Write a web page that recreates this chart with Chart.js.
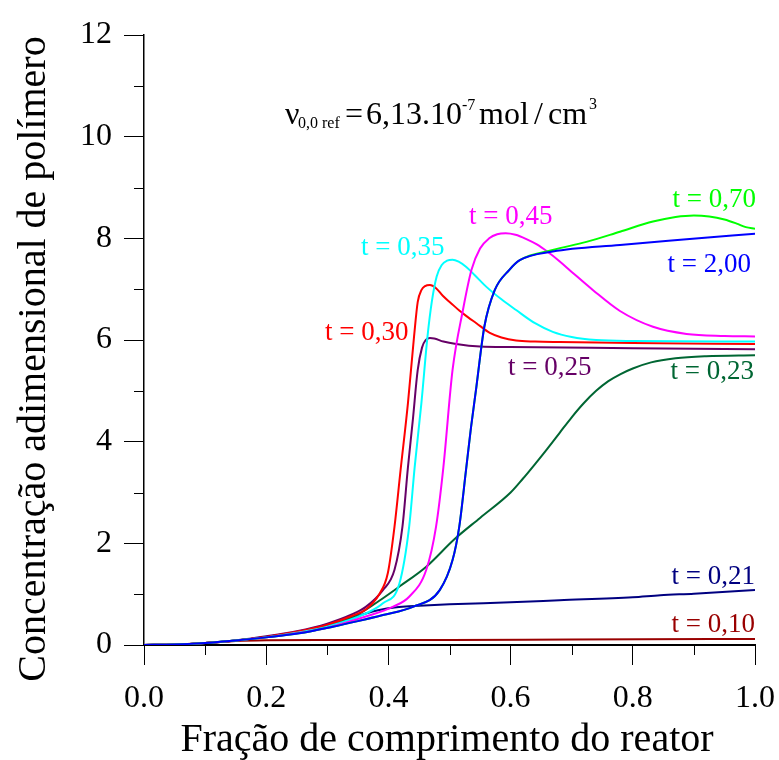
<!DOCTYPE html>
<html>
<head>
<meta charset="utf-8">
<script src="https://cdn.jsdelivr.net/npm/chart.js@4"></script>
<style>
  html, body { margin: 0; padding: 0; background: #ffffff; }
  #wrap { width: 779px; height: 760px; }
</style>
</head>
<body>
<div id="wrap"><canvas id="c" width="779" height="760"></canvas></div>
<script>
// Dimensionless polymer concentration along the reactor, one curve per time t.
const xTickLabels = ['0.0', '0.2', '0.4', '0.6', '0.8', '1.0'];
const yTickLabels = ['0', '2', '4', '6', '8', '10', '12'];

const xT010 = [0, 0.05, 0.1, 0.15, 0.2, 0.3, 0.5, 0.7, 1.0];
const yT010 = [0, 0.01, 0.04, 0.08, 0.095, 0.10, 0.10, 0.11, 0.12];

const xT021 = [0, 0.05, 0.1, 0.15, 0.2, 0.25, 0.3, 0.34, 0.363, 0.385, 0.41, 0.434, 0.5, 0.6, 0.68, 0.8, 0.845, 0.9, 1.0];
const yT021 = [0, 0.01, 0.04, 0.09, 0.16, 0.25, 0.38, 0.52, 0.62, 0.69, 0.74, 0.76, 0.80, 0.84, 0.88, 0.94, 0.98, 1.01, 1.08];

const xT023 = [0, 0.05, 0.1, 0.15, 0.2, 0.25, 0.3, 0.35, 0.385, 0.418, 0.462, 0.508, 0.55, 0.6, 0.62, 0.64, 0.66, 0.68, 0.7, 0.72, 0.74, 0.76, 0.78, 0.8, 0.83, 0.87, 0.92, 1.0];
const yT023 = [0, 0.01, 0.04, 0.09, 0.16, 0.25, 0.39, 0.60, 0.87, 1.15, 1.54, 2.08, 2.5, 3.0, 3.27, 3.56, 3.86, 4.17, 4.48, 4.76, 5.0, 5.19, 5.33, 5.44, 5.56, 5.64, 5.68, 5.70];

const xT025 = [0, 0.05, 0.1, 0.15, 0.2, 0.25, 0.3, 0.34, 0.363, 0.391, 0.41, 0.423, 0.432, 0.44, 0.448, 0.455, 0.461, 0.468, 0.475, 0.49, 0.511, 0.55, 0.6, 0.8, 1.0];
const yT025 = [0, 0.01, 0.04, 0.09, 0.17, 0.27, 0.42, 0.60, 0.75, 1.08, 1.48, 2.33, 3.5, 4.43, 5.41, 5.85, 6.0, 6.04, 6.03, 5.97, 5.92, 5.87, 5.86, 5.84, 5.82];

const xT030 = [0, 0.05, 0.1, 0.15, 0.2, 0.25, 0.3, 0.34, 0.363, 0.385, 0.399, 0.41, 0.42, 0.432, 0.442, 0.448, 0.454, 0.46, 0.468, 0.478, 0.489, 0.502, 0.516, 0.53, 0.544, 0.566, 0.585, 0.609, 0.64, 0.68, 0.8, 1.0];
const yT030 = [0, 0.01, 0.04, 0.09, 0.16, 0.26, 0.40, 0.57, 0.70, 1.0, 1.41, 2.33, 3.45, 4.76, 6.07, 6.75, 6.98, 7.06, 7.08, 7.02, 6.87, 6.73, 6.58, 6.45, 6.33, 6.14, 6.05, 5.99, 5.97, 5.96, 5.94, 5.92];

const xT035 = [0, 0.05, 0.1, 0.15, 0.2, 0.25, 0.3, 0.363, 0.391, 0.418, 0.434, 0.443, 0.454, 0.464, 0.471, 0.479, 0.487, 0.496, 0.505, 0.515, 0.527, 0.541, 0.56, 0.585, 0.609, 0.64, 0.669, 0.7, 0.74, 0.8, 1.0];
const yT035 = [0, 0.01, 0.04, 0.09, 0.15, 0.24, 0.36, 0.62, 0.82, 1.21, 2.33, 3.5, 4.76, 6.07, 6.75, 7.25, 7.47, 7.56, 7.58, 7.54, 7.44, 7.28, 7.05, 6.8, 6.59, 6.33, 6.16, 6.06, 6.0, 5.98, 5.97];

const xT045 = [0, 0.05, 0.1, 0.15, 0.2, 0.25, 0.3, 0.363, 0.407, 0.434, 0.462, 0.478, 0.49, 0.505, 0.522, 0.536, 0.55, 0.565, 0.578, 0.592, 0.608, 0.625, 0.643, 0.66, 0.68, 0.7, 0.735, 0.779, 0.833, 0.888, 0.95, 1.0];
const yT045 = [0, 0.01, 0.04, 0.09, 0.15, 0.23, 0.34, 0.56, 0.75, 0.95, 1.48, 2.33, 3.5, 5.41, 6.59, 7.38, 7.8, 8.0, 8.08, 8.1, 8.07, 7.99, 7.88, 7.74, 7.55, 7.34, 6.98, 6.57, 6.26, 6.12, 6.08, 6.07];

const xT070 = [0, 0.05, 0.1, 0.15, 0.2, 0.254, 0.309, 0.35, 0.391, 0.44, 0.484, 0.505, 0.516, 0.527, 0.535, 0.544, 0.557, 0.574, 0.598, 0.615, 0.669, 0.724, 0.779, 0.833, 0.87, 0.9, 0.925, 0.95, 0.97, 0.985, 1.0];
const yT070 = [0, 0.01, 0.04, 0.09, 0.15, 0.23, 0.36, 0.47, 0.59, 0.75, 1.08, 1.67, 2.33, 3.44, 4.26, 5.08, 6.26, 6.98, 7.38, 7.57, 7.77, 7.93, 8.13, 8.33, 8.42, 8.45, 8.43, 8.37, 8.29, 8.22, 8.19];

const xT200 = [0, 0.05, 0.1, 0.15, 0.2, 0.254, 0.309, 0.35, 0.391, 0.44, 0.484, 0.505, 0.516, 0.527, 0.535, 0.544, 0.557, 0.574, 0.598, 0.615, 0.669, 0.779, 0.888, 1.0];
const yT200 = [0, 0.01, 0.04, 0.09, 0.15, 0.23, 0.36, 0.47, 0.59, 0.75, 1.08, 1.67, 2.33, 3.44, 4.26, 5.08, 6.26, 6.98, 7.38, 7.57, 7.74, 7.87, 7.98, 8.09];

const seriesNames = ['t = 2,00', 't = 0,70', 't = 0,45', 't = 0,35', 't = 0,30', 't = 0,25', 't = 0,23', 't = 0,21', 't = 0,10'];
const seriesX = [xT200, xT070, xT045, xT035, xT030, xT025, xT023, xT021, xT010];
const seriesY = [yT200, yT070, yT045, yT035, yT030, yT025, yT023, yT021, yT010];
const seriesColors = ['#0000ff', '#00ff00', '#ff00ff', '#00ffff', '#ff0000', '#660066', '#006633', '#000080', '#990000'];

const SERIF = '"Liberation Serif", "Times New Roman", serif';

const datasets = seriesNames.map((name, i) => ({
  label: name,
  data: seriesX[i].map((x, k) => ({ x: x, y: seriesY[i][k] })),
  borderColor: seriesColors[i],
  backgroundColor: seriesColors[i],
  borderWidth: 2,
  pointRadius: 0,
  fill: false,
  cubicInterpolationMode: 'monotone'
}));

// Curve labels: [text, colour, anchor x, baseline y, alignment]
const curveLabels = [
  ['t = 0,70', '#00ff00', 756, 207, 'right'],
  ['t = 2,00', '#0000ff', 751, 272, 'right'],
  ['t = 0,45', '#ff00ff', 469, 224, 'left'],
  ['t = 0,35', '#00ffff', 361, 255, 'left'],
  ['t = 0,30', '#ff0000', 325, 340, 'left'],
  ['t = 0,25', '#660066', 508, 375, 'left'],
  ['t = 0,23', '#006633', 754, 379, 'right'],
  ['t = 0,21', '#000080', 755, 584, 'right'],
  ['t = 0,10', '#990000', 755, 632, 'right']
];

// Reference concentration note: [text, font size, x, baseline]
const notePieces = [
  ['\u03bd', 32, 285, 124],
  ['0,0 ref', 16, 298, 128],
  ['=', 32, 345, 124],
  ['6,13.10', 32, 366, 124],
  ['-7', 16, 462, 110],
  ['mol', 32, 479, 124],
  ['/', 32, 534, 124],
  ['cm', 32, 548, 124],
  ['3', 16, 589, 109]
];

const decorations = {
  id: 'decorations',
  afterDraw(chart) {
    const ctx = chart.ctx;
    const xs = chart.scales.x, ys = chart.scales.y;
    const area = chart.chartArea;
    ctx.save();
    // minor ticks
    ctx.strokeStyle = '#000';
    ctx.lineWidth = 1;
    ctx.beginPath();
    for (let i = 1; i < 10; i += 2) {
      const px = Math.round(xs.getPixelForValue(i / 10)) + 0.5;
      ctx.moveTo(px, area.bottom);
      ctx.lineTo(px, area.bottom + 10);
    }
    for (let v = 1; v < 12; v += 2) {
      const py = Math.round(ys.getPixelForValue(v)) + 0.5;
      ctx.moveTo(area.left - 10, py);
      ctx.lineTo(area.left, py);
    }
    ctx.stroke();

    // curve labels
    ctx.font = '27px ' + SERIF;
    ctx.textBaseline = 'alphabetic';
    curveLabels.forEach(([t, c, x, y, a]) => {
      ctx.fillStyle = c;
      ctx.textAlign = a;
      ctx.fillText(t, x, y);
    });

    ctx.fillStyle = '#000';
    ctx.textAlign = 'left';
    notePieces.forEach(([s, size, x, y]) => {
      ctx.font = size + 'px ' + SERIF;
      ctx.fillText(s, x, y);
    });

    // axis titles
    ctx.font = '40px ' + SERIF;
    ctx.textAlign = 'center';
    ctx.fillText('Fração de comprimento do reator', 447, 751);
    ctx.translate(45, 359);
    ctx.rotate(-Math.PI / 2);
    ctx.fillText('Concentração adimensional de polímero', 0, 0);
    ctx.restore();
  }
};

new Chart(document.getElementById('c'), {
  type: 'line',
  data: { datasets: datasets },
  options: {
    responsive: false,
    animation: false,
    devicePixelRatio: 1,
    layout: { padding: { top: 35, right: 24, left: 0, bottom: 0 } },
    plugins: { legend: { display: false }, tooltip: { enabled: false } },
    scales: {
      x: {
        type: 'linear',
        min: 0, max: 1,
        ticks: {
          stepSize: 0.2,
          color: '#000',
          font: { family: SERIF, size: 32 },
          padding: 14,
          maxRotation: 0,
          callback: (v) => xTickLabels[Math.round(v * 5)]
        },
        grid: { drawOnChartArea: false, drawTicks: true, tickLength: 20, color: '#000', lineWidth: 1 },
        border: { display: true, color: '#000', width: 2 },
        afterFit: (s) => { s.height = 115; s.paddingLeft = 0; s.paddingRight = 0; }
      },
      y: {
        type: 'linear',
        min: 0, max: 12,
        ticks: {
          stepSize: 2,
          color: '#000',
          font: { family: SERIF, size: 32 },
          padding: 12,
          callback: (v) => yTickLabels[Math.round(v / 2)]
        },
        grid: { drawOnChartArea: false, drawTicks: true, tickLength: 20, color: '#000', lineWidth: 1 },
        border: { display: true, color: '#000', width: 1.5 },
        afterFit: (s) => { s.width = 144; s.paddingTop = 0; s.paddingBottom = 0; }
      }
    }
  },
  plugins: [decorations]
});
</script>
</body>
</html>
